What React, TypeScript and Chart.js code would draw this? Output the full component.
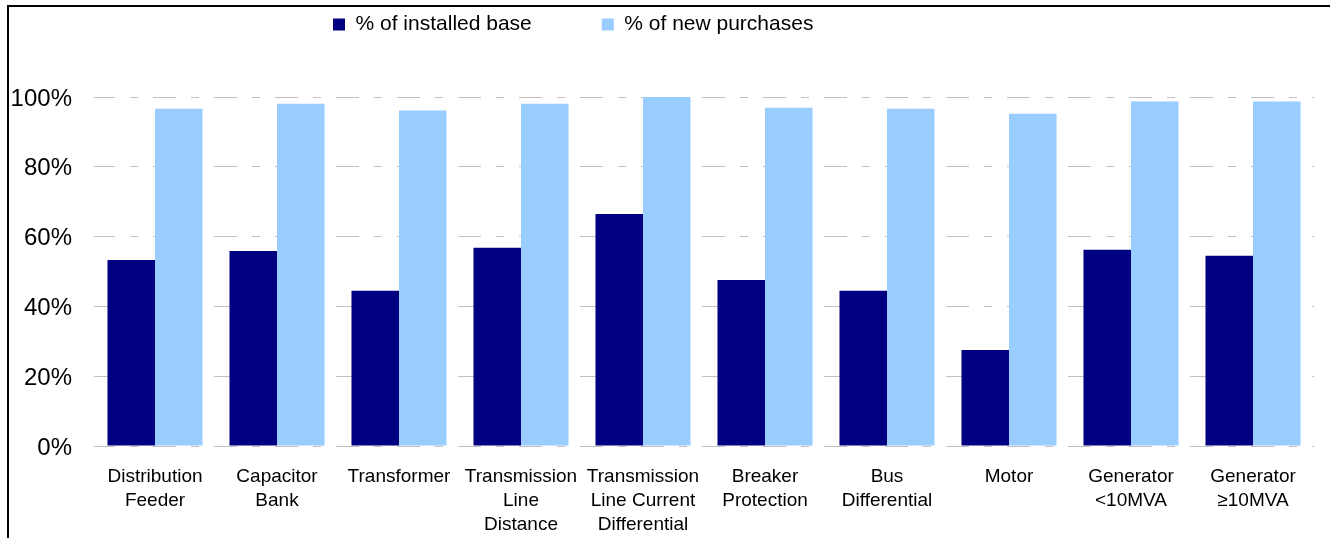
import React, { useEffect, useRef } from 'react';
import { Chart, registerables } from 'chart.js';

Chart.register(...registerables);

const categories: (string | string[])[] = [
  ['Distribution', 'Feeder'],
  ['Capacitor', 'Bank'],
  'Transformer',
  ['Transmission', 'Line', 'Distance'],
  ['Transmission', 'Line Current', 'Differential'],
  ['Breaker', 'Protection'],
  ['Bus', 'Differential'],
  'Motor',
  ['Generator', '<10MVA'],
  ['Generator', '≥10MVA'],
];

const installedBase = [53.3, 55.9, 44.5, 56.8, 66.5, 47.6, 44.5, 27.5, 56.2, 54.5];
const newPurchases = [96.6, 98.1, 96.1, 98.1, 100, 96.9, 96.6, 95.2, 98.7, 98.7];

const seriesNames = ['% of installed base', '% of new purchases'];
const seriesColors = ['#000080', '#99CCFF'];

const yTicks = [0, 20, 40, 60, 80, 100];

const FONT = '"Liberation Sans", Arial, sans-serif';

export default function App() {
  const ref = useRef<HTMLCanvasElement>(null);

  useEffect(() => {
    const legendPlacer = {
      id: 'legendPlacer',
      afterLayout(chart: any) {
        const lg = chart.legend;
        if (!lg) return;
        const pad = lg.options.labels.padding;
        const w = lg.right - lg.left;
        const h = lg.bottom - lg.top;
        lg.left = 324 - pad;
        lg.right = lg.left + w;
        lg.top = 7 - pad;
        lg.bottom = lg.top + h;
      },
    };

    const chart = new Chart(ref.current as HTMLCanvasElement, {
      type: 'bar',
      data: {
        labels: categories,
        datasets: [
          {
            label: seriesNames[0],
            data: installedBase,
            backgroundColor: seriesColors[0],
            borderWidth: 0,
          },
          {
            label: seriesNames[1],
            data: newPurchases,
            backgroundColor: seriesColors[1],
            borderWidth: 0,
          },
        ],
      },
      options: {
        responsive: false,
        maintainAspectRatio: false,
        animation: false,
        layout: { padding: { left: 0, right: 16, top: 0, bottom: 0 } },
        datasets: { bar: { categoryPercentage: 0.779, barPercentage: 1 } },
        plugins: {
          legend: {
            position: 'top',
            align: 'start',
            maxHeight: 90,
            labels: {
              boxWidth: 12,
              boxHeight: 12,
              padding: 70,
              color: '#000',
              font: { family: FONT, size: 21 },
            },
          },
          tooltip: { enabled: false },
        },
        scales: {
          x: {
            grid: { display: false },
            border: { display: false },
            ticks: {
              color: '#000',
              font: { family: FONT, size: 19, lineHeight: 1.263 },
              padding: 11,
              maxRotation: 0,
              minRotation: 0,
              autoSkip: false,
            },
            afterFit(s: any) {
              s.height = 92;
            },
          },
          y: {
            min: 0,
            max: 100,
            afterBuildTicks(s: any) {
              s.ticks = yTicks.map((v) => ({ value: v }));
            },
            grid: {
              color: '#c0c0c0',
              lineWidth: 1,
              drawTicks: false,
            },
            border: {
              display: false,
              dash: [23, 15, 8, 15],
              dashOffset: 2,
            },
            ticks: {
              color: '#000',
              font: { family: FONT, size: 24 },
              padding: 22,
              labelOffset: 2,
              callback: (v: any) => v + '%',
            },
            afterFit(s: any) {
              s.width = 85;
            },
          },
        },
      } as any,
      plugins: [legendPlacer],
    });
    return () => chart.destroy();
  }, []);

  return (
    <div
      style={{
        position: 'fixed',
        left: 7,
        top: 5,
        width: 1323,
        height: 533,
        borderLeft: '2px solid #000',
        borderTop: '2px solid #000',
        boxSizing: 'border-box',
        background: '#fff',
      }}
    >
      <canvas ref={ref} width={1321} height={531} style={{ display: 'block' }} />
    </div>
  );
}
